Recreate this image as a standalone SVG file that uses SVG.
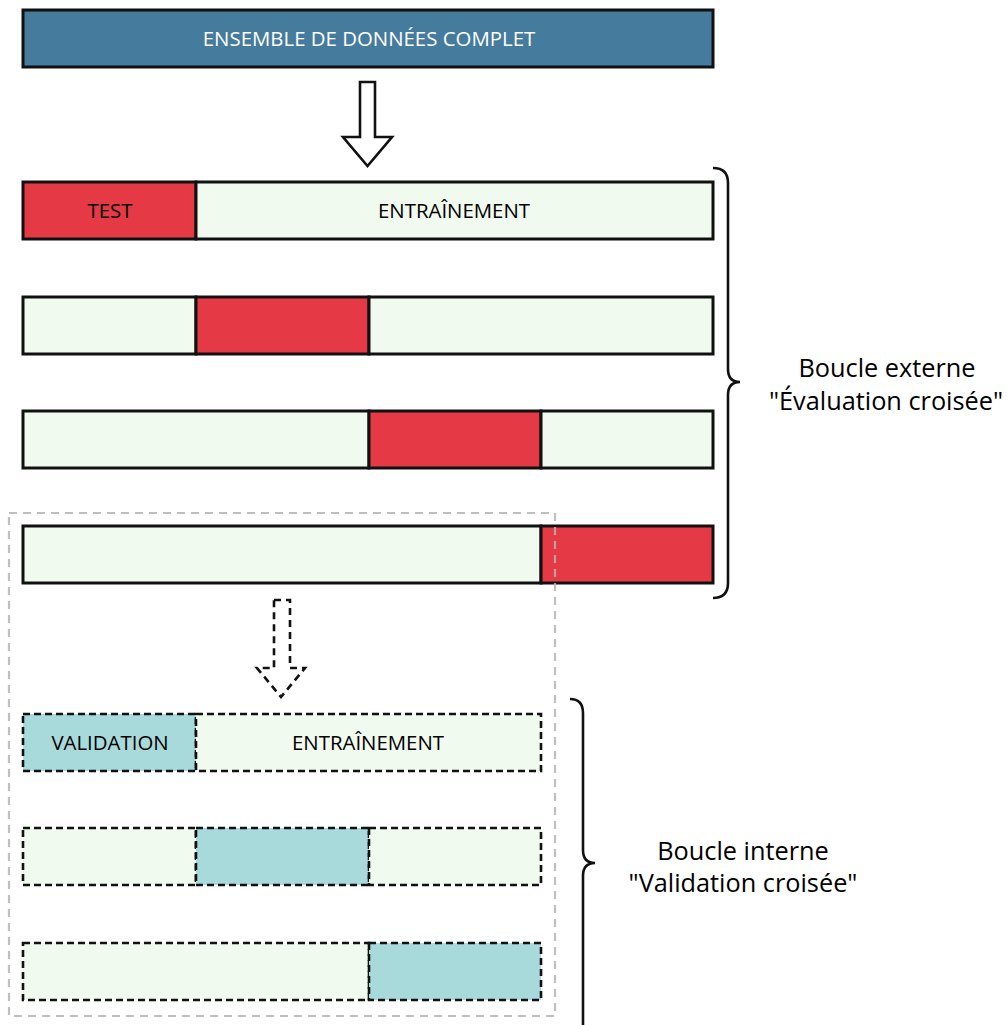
<svg xmlns="http://www.w3.org/2000/svg" width="1008" height="1025" viewBox="0 0 1008 1025">
<style>
  .bar { stroke: #111; stroke-width: 3; }
  .dbar { stroke: #111; stroke-width: 2.6; stroke-dasharray: 7 4; }
  .red { fill: #e63946; }
  .light { fill: #f1faee; }
  .teal { fill: #a8dadc; }
  .blue { fill: #457b9d; }
  .lbl { font-family: "Open Sans", "Noto Sans", "DejaVu Sans", sans-serif; font-size: 20.4px; font-weight: 500; text-anchor: middle; fill: #000; }
  .side { font-family: "Open Sans", "Noto Sans", "DejaVu Sans", sans-serif; font-size: 25.3px; font-weight: 500; text-anchor: middle; fill: #000; }
  .brace { fill: none; stroke: #111; stroke-width: 2.6; }
</style>
<rect width="1008" height="1025" fill="#fff"/>

<g id="dataset">
  <rect class="bar blue" x="23" y="10" width="690" height="57"/>
  <text class="lbl" x="369" y="46" style="fill:#fff">ENSEMBLE DE DONNÉES COMPLET</text>
</g>

<g id="outer-fold-1">
  <rect class="bar red" x="23" y="182" width="173" height="57"/>
  <rect class="bar light" x="196" y="182" width="517" height="57"/>
  <text class="lbl" x="110" y="218">TEST</text>
  <text class="lbl" x="454" y="218">ENTRAÎNEMENT</text>
</g>
<g id="outer-fold-2">
  <rect class="bar light" x="23" y="297" width="173" height="57"/>
  <rect class="bar red" x="196" y="297" width="173" height="57"/>
  <rect class="bar light" x="369" y="297" width="344" height="57"/>
</g>
<g id="outer-fold-3">
  <rect class="bar light" x="23" y="411" width="346" height="57"/>
  <rect class="bar red" x="369" y="411" width="172" height="57"/>
  <rect class="bar light" x="541" y="411" width="172" height="57"/>
</g>
<g id="outer-fold-4">
  <rect class="bar light" x="23" y="526" width="518" height="57"/>
  <rect class="bar red" x="541" y="526" width="172" height="57"/>
</g>

<g id="inner-fold-1">
  <rect class="dbar teal" x="23" y="714" width="173" height="57"/>
  <rect class="dbar light" x="196" y="714" width="345" height="57"/>
  <text class="lbl" x="110" y="750">VALIDATION</text>
  <text class="lbl" x="368" y="750">ENTRAÎNEMENT</text>
</g>
<g id="inner-fold-2">
  <rect class="dbar light" x="23" y="828" width="173" height="57"/>
  <rect class="dbar teal" x="196" y="828" width="173" height="57"/>
  <rect class="dbar light" x="369" y="828" width="172" height="57"/>
</g>
<g id="inner-fold-3">
  <rect class="dbar light" x="23" y="943" width="346" height="57"/>
  <rect class="dbar teal" x="369" y="943" width="172" height="57"/>
</g>

<g id="inner-loop-frame">
  <rect x="9" y="513" width="546" height="503" fill="none" stroke="#b4b4b4" stroke-opacity="0.85" stroke-width="2.2" stroke-dasharray="8 6"/>
</g>

<g id="outer-label">
  <text class="side" x="887" y="377">Boucle externe</text>
  <text class="side" x="886" y="410">"Évaluation croisée"</text>
</g>
<g id="inner-label">
  <text class="side" x="743" y="860">Boucle interne</text>
  <text class="side" x="743" y="892">"Validation croisée"</text>
</g>

<g id="connectors">
  <polygon points="360,82 375,82 375,137 392,137 367.5,166 343,137 360,137" fill="#fff" stroke="#111" stroke-width="2.6" stroke-linejoin="miter"/>
  <polygon points="274,600 290,600 290,668 305,668 281,697 257,668 274,668" fill="none" stroke="#111" stroke-width="2.6" stroke-dasharray="7 5"/>
  <path class="brace" d="M713,168 Q728,168 728,183 L728,369 Q728,382 740,382 Q728,382 728,395 L728,583 Q728,598 713,598"/>
  <path class="brace" d="M570,699 Q583,699 583,713 L583,850 Q583,863 595,863 Q583,863 583,876 L583,1030"/>
</g>
</svg>
